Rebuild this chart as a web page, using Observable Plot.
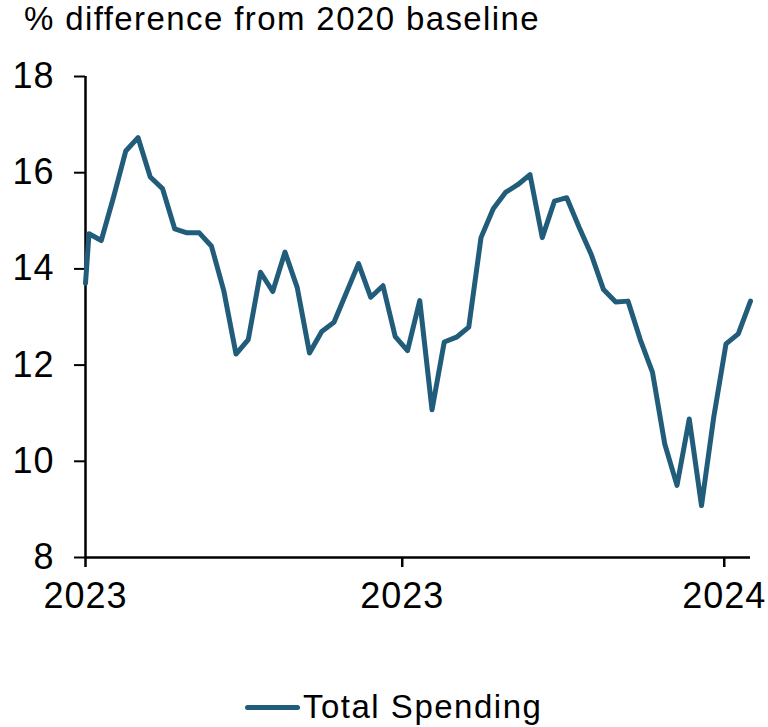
<!DOCTYPE html>
<html>
<head>
<meta charset="utf-8">
<script src="https://cdn.jsdelivr.net/npm/d3@7"></script>
<script src="https://cdn.jsdelivr.net/npm/@observablehq/plot@0.6"></script>
<style>
  html, body { margin: 0; padding: 0; background: #fff; }
  body { width: 768px; height: 727px; overflow: hidden; font-family: "Liberation Sans", Arial, sans-serif; color: #000; position: relative; }
  #title { position: absolute; left: 24px; top: -2px; font-size: 33px; letter-spacing: 1.4px; line-height: 42px; white-space: nowrap; }
  #chart { position: absolute; left: 0; top: 45px; }
  #legend { position: absolute; left: 245px; top: 686px; height: 42px; display: flex; align-items: center; font-size: 33px; letter-spacing: 1.5px; line-height: 42px; white-space: nowrap; }
  #legend .sw { display: inline-block; width: 55px; height: 5px; border-radius: 3px; background: #215d7b; margin-right: 3px; }
</style>
</head>
<body>
<div id="title">% difference from 2020 baseline</div>
<div id="chart"></div>
<div id="legend"><span class="sw"></span><span>Total Spending</span></div>
<script>
const seriesName = "Total Spending";
const dates = [
  "2023-01-01","2023-01-03","2023-01-10","2023-01-17","2023-01-24","2023-01-31",
  "2023-02-07","2023-02-14","2023-02-21","2023-02-28",
  "2023-03-07","2023-03-14","2023-03-21","2023-03-28",
  "2023-04-04","2023-04-11","2023-04-18","2023-04-25",
  "2023-05-02","2023-05-09","2023-05-16","2023-05-23","2023-05-30",
  "2023-06-06","2023-06-13","2023-06-20","2023-06-27",
  "2023-07-04","2023-07-11","2023-07-18","2023-07-25",
  "2023-08-01","2023-08-08","2023-08-15","2023-08-22","2023-08-29",
  "2023-09-05","2023-09-12","2023-09-19","2023-09-26",
  "2023-10-03","2023-10-10","2023-10-17","2023-10-24","2023-10-31",
  "2023-11-07","2023-11-14","2023-11-21","2023-11-28",
  "2023-12-05","2023-12-12","2023-12-19","2023-12-26",
  "2024-01-02","2024-01-09","2024-01-16"
];
const values = [
  13.7, 14.73, 14.59, 15.49, 16.45, 16.73,
  15.91, 15.67, 14.83, 14.75,
  14.75, 14.47, 13.55, 12.23,
  12.53, 13.93, 13.53, 14.35,
  13.61, 12.25, 12.70, 12.89, 13.50,
  14.11, 13.41, 13.65, 12.59,
  12.30, 13.34, 11.07, 12.48,
  12.58, 12.79, 14.65, 15.25, 15.59,
  15.75, 15.96, 14.65, 15.41,
  15.48, 14.87, 14.30, 13.57, 13.31,
  13.33, 12.53, 11.85, 10.36,
  9.50, 10.88, 9.08, 10.92,
  12.44, 12.65, 13.33
];
const xTicks = ["2023-01-01", "2023-07-01", "2024-01-01"];
const yTicks = [8, 10, 12, 14, 16, 18];
const yDomain = [8, 18];
const xDomain = ["2023-01-01", "2024-01-16"];

const toDate = d => new Date(d + "T00:00:00Z");
const data = dates.map((d, i) => ({date: toDate(d), value: values[i]}));

const chart = Plot.plot({
  width: 768,
  height: 600,
  marginLeft: 85,
  marginRight: 18,
  marginTop: 31,
  marginBottom: 88,
  style: {fontFamily: "'Liberation Sans', Arial, sans-serif", fontSize: "36px", color: "#000", background: "#fff", letterSpacing: "1px"},
  x: {type: "utc", domain: xDomain.map(toDate)},
  y: {domain: yDomain},
  marks: [
    Plot.axisY({ticks: yTicks, tickSize: 11, tickPadding: 20, strokeWidth: 2, label: null, fontSize: 36}),
    Plot.axisX({ticks: xTicks.map(toDate), tickFormat: d3.utcFormat("%Y"), tickSize: 10, tickPadding: 15, strokeWidth: 2.5, label: null, fontSize: 36}),
    Plot.ruleY([8], {stroke: "#000", strokeWidth: 2.5}),
    Plot.ruleX([toDate("2023-01-01")], {stroke: "#000", strokeWidth: 2.5}),
    Plot.line(data, {x: "date", y: "value", stroke: "#215d7b", strokeWidth: 5, strokeLinejoin: "round", strokeLinecap: "round"})
  ]
});
document.getElementById("chart").appendChild(chart);
</script>
</body>
</html>
